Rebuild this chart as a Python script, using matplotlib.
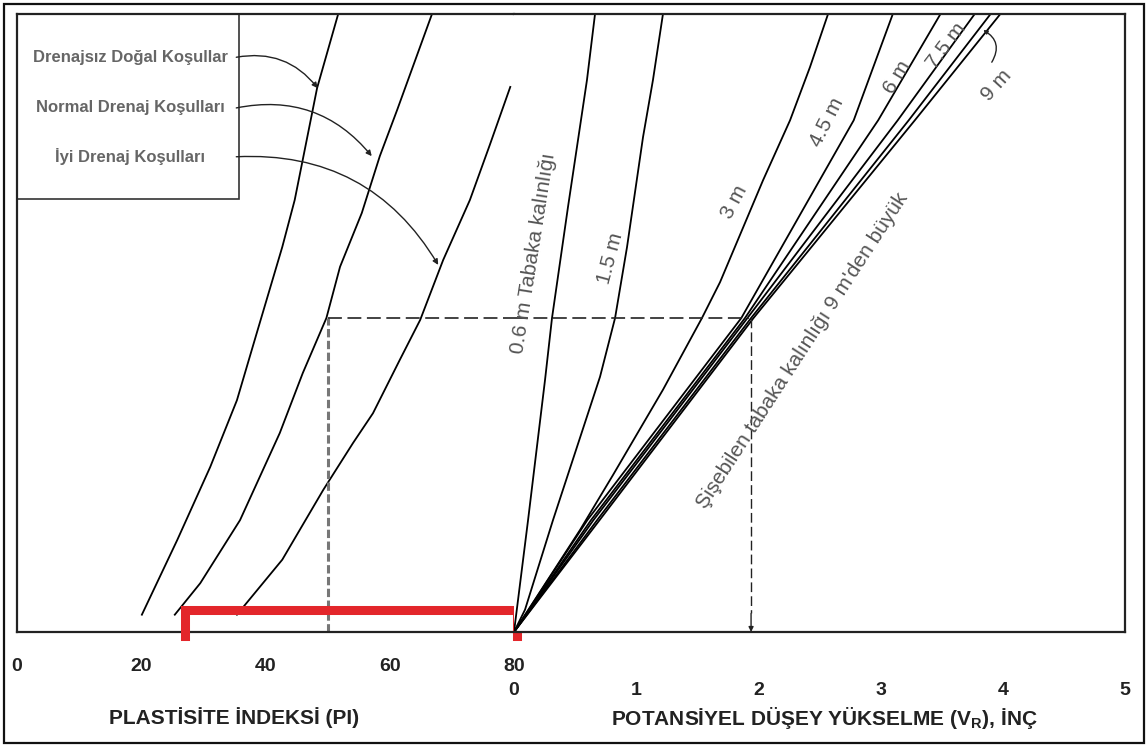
import matplotlib
matplotlib.use("Agg")
import matplotlib.pyplot as plt
from matplotlib.patches import Rectangle

plt.rcParams["font.family"] = ["Liberation Sans", "DejaVu Sans"]
plt.rcParams["mathtext.fontset"] = "custom"
plt.rcParams["mathtext.bf"] = "Liberation Sans:bold"
plt.rcParams["mathtext.rm"] = "Liberation Sans:bold"
plt.rcParams["lines.scale_dashes"] = False

# height on the chart is unitless: 0 = bottom line, 100 = top line
pi_ticks = [0, 20, 40, 60, 80]
vr_ticks = [0, 1, 2, 3, 4, 5]

# left part: plasticity index curves
dren_pi = [20.1, 25.8, 31.1, 35.4, 38.6, 42.7, 44.7, 48.3, 51.7]
dren_h = [2.8, 14.9, 26.7, 37.5, 48.4, 62.3, 69.9, 88.0, 100]
normal_pi = [25.4, 29.5, 35.9, 42.3, 46.0, 49.8, 52.0, 55.5, 58.4, 61.2, 66.8]
normal_h = [2.8, 7.9, 18.1, 32.2, 41.9, 50.8, 59.1, 67.8, 77.0, 84.5, 100]
iyi_pi = [35.4, 42.7, 49.3, 54.1, 57.3, 61.6, 64.9, 68.6, 72.9, 76.1, 79.4]
iyi_h = [2.8, 11.7, 23.0, 30.6, 35.4, 44.0, 50.5, 60.2, 69.9, 78.8, 88.2]

# right part: potential vertical rise for each layer thickness
t06_vr = [0, 0.115, 0.254, 0.311, 0.442, 0.597, 0.663]
t06_h = [0, 18.1, 40.8, 50.8, 68.8, 89.3, 100]
t15_vr = [0, 0.09, 0.319, 0.704, 0.827, 0.925, 1.056, 1.137, 1.219]
t15_h = [0, 3.6, 18.1, 41.3, 50.8, 62.3, 80.1, 89.3, 100]
t3_vr = [0, 0.54, 0.81, 1.219, 1.538, 1.686, 2.038, 2.259, 2.422, 2.57]
t3_h = [0, 16.5, 25.4, 39.2, 50.8, 56.6, 73.1, 82.8, 91.4, 100]
bundle_h = [0, 18.1, 50.8, 82.8, 100]
t45_vr = [0, 0.60, 1.86, 2.78, 3.10]
t6_vr = [0, 0.63, 1.89, 2.98, 3.49]
t75_vr = [0, 0.65, 1.91, 3.14, 3.77]
t9_vr = [0, 0.68, 1.94, 3.23, 3.90]
tbig_vr = [0, 0.70, 1.96, 3.28, 3.98]

# worked example and highlighted PI range
pi_ex = 50
h_ex = 50.8
vr_ex = 1.94
red_pi = [27, 80.5]

fig = plt.figure(figsize=(11.48, 7.47), dpi=100)
axL = fig.add_axes([17/1148, 115/747, 497/1148, 618/747])
axR = fig.add_axes([514/1148, 115/747, 611/1148, 618/747])

for ax in (axL, axR):
    ax.set_ylim(0, 100)
    ax.set_yticks([])
    for s in ax.spines.values():
        s.set_linewidth(1.6)
        s.set_color("#222222")
axL.spines["right"].set_visible(False)
axR.spines["left"].set_visible(False)
axL.set_xlim(0, 80)
axR.set_xlim(0, 5)

axL.set_xticks(pi_ticks)
axL.set_xticklabels([str(t) for t in pi_ticks], fontweight="bold", fontsize=14)
axL.tick_params(axis="x", length=0, pad=19, colors="#222222")
axR.set_xticks(vr_ticks)
axR.set_xticklabels([str(t) for t in vr_ticks], fontweight="bold", fontsize=14)
axR.tick_params(axis="x", length=0, pad=36, colors="#222222")

lw = 1.3
axL.plot(dren_pi, dren_h, color="k", lw=lw)
axL.plot(normal_pi, normal_h, color="k", lw=lw)
axL.plot(iyi_pi, iyi_h, color="k", lw=lw)

for vr, h in [(t06_vr, t06_h), (t15_vr, t15_h), (t3_vr, t3_h),
              (t45_vr, bundle_h), (t6_vr, bundle_h), (t75_vr, bundle_h),
              (t9_vr, bundle_h), (tbig_vr, bundle_h)]:
    axR.plot(vr, h, color="k", lw=lw)

# legend box
axL.add_patch(Rectangle((0, 70.1), 35.7, 29.9, fill=False, ec="#333333", lw=1.2))
leg_text = ["Drenajsız Doğal Koşullar", "Normal Drenaj Koşulları", "İyi Drenaj Koşulları"]
leg_h = [93.0, 84.8, 76.9]
leg_tip = [(48.4, 88.0), (57.1, 77.0), (67.8, 59.4)]
for txt, h, tip in zip(leg_text, leg_h, leg_tip):
    axL.text(18.2, h, txt, ha="center", va="center", fontsize=12,
             fontweight="bold", color="#666666")
    axL.annotate("", xy=tip, xytext=(35.3, h),
                 arrowprops=dict(arrowstyle="-|>", lw=1.0, color="#222222",
                                 mutation_scale=8, shrinkA=0, shrinkB=0,
                                 connectionstyle="arc3,rad=-0.3"))

# example path
axL.plot([pi_ex, pi_ex], [0, h_ex], color="#777777", lw=2.2, dashes=(6, 2.5))
axL.plot([pi_ex, 80], [h_ex, h_ex], color="#222222", lw=1.2, dashes=(10, 4))
axR.plot([0, vr_ex - 0.02], [h_ex, h_ex], color="#222222", lw=1.2, dashes=(10, 4))
axR.plot([vr_ex, vr_ex], [h_ex, 3], color="#222222", lw=1.0, dashes=(7, 3))
axR.annotate("", xy=(vr_ex, 0), xytext=(vr_ex, 3),
             arrowprops=dict(arrowstyle="-|>", lw=1.0, color="#222222",
                             mutation_scale=7, shrinkA=0, shrinkB=0))

# red bracket on the PI axis
axL.plot([red_pi[0], red_pi[0], red_pi[1], red_pi[1]], [-0.7, 3.6, 3.6, -0.7],
         color="#e3262b", lw=6.5, solid_joinstyle="miter", clip_on=False, zorder=5)

# line labels
lab_kw = dict(ha="center", va="center", color="#555555", fontsize=15)
axR.text(0.16, 61.3, "0.6 m Tabaka kalınlığı", rotation=81, **lab_kw)
axR.text(0.79, 60.5, "1.5 m", rotation=75, **lab_kw)
axR.text(1.80, 69.5, "3 m", rotation=62, **lab_kw)
axR.text(2.56, 82.5, "4.5 m", rotation=63, **lab_kw)
axR.text(3.14, 89.8, "6 m", rotation=59, **lab_kw)
axR.text(3.54, 94.8, "7.5 m", rotation=53, **lab_kw)
axR.text(3.95, 88.5, "9 m", rotation=48, **lab_kw)
axR.text(2.36, 45.6, "Şişebilen tabaka kalınlığı 9 m'den büyük", rotation=57, **lab_kw)
axR.annotate("", xy=(3.84, 97.4), xytext=(3.91, 92.2),
             arrowprops=dict(arrowstyle="-|>", lw=1.0, color="#222222",
                             mutation_scale=6, shrinkA=0, shrinkB=0,
                             connectionstyle="arc3,rad=0.5"))

# axis titles
fig.text(234/1148, 1 - 718/747, "PLASTİSİTE İNDEKSİ (PI)", ha="center", va="center",
         fontsize=15, fontweight="bold", color="#222222")
fig.text(824/1148, 1 - 718/747, r"POTANSİYEL DÜŞEY YÜKSELME ($\mathbf{V_R}$), İNÇ",
         ha="center", va="center", fontsize=15, fontweight="bold", color="#222222")

# outer frame
fig.add_artist(Rectangle((4/1148, 4/747), 1140/1148, 739/747, transform=fig.transFigure,
                         fill=False, ec="#111111", lw=1.6))

fig.savefig("out.png", dpi=100, facecolor="white")
